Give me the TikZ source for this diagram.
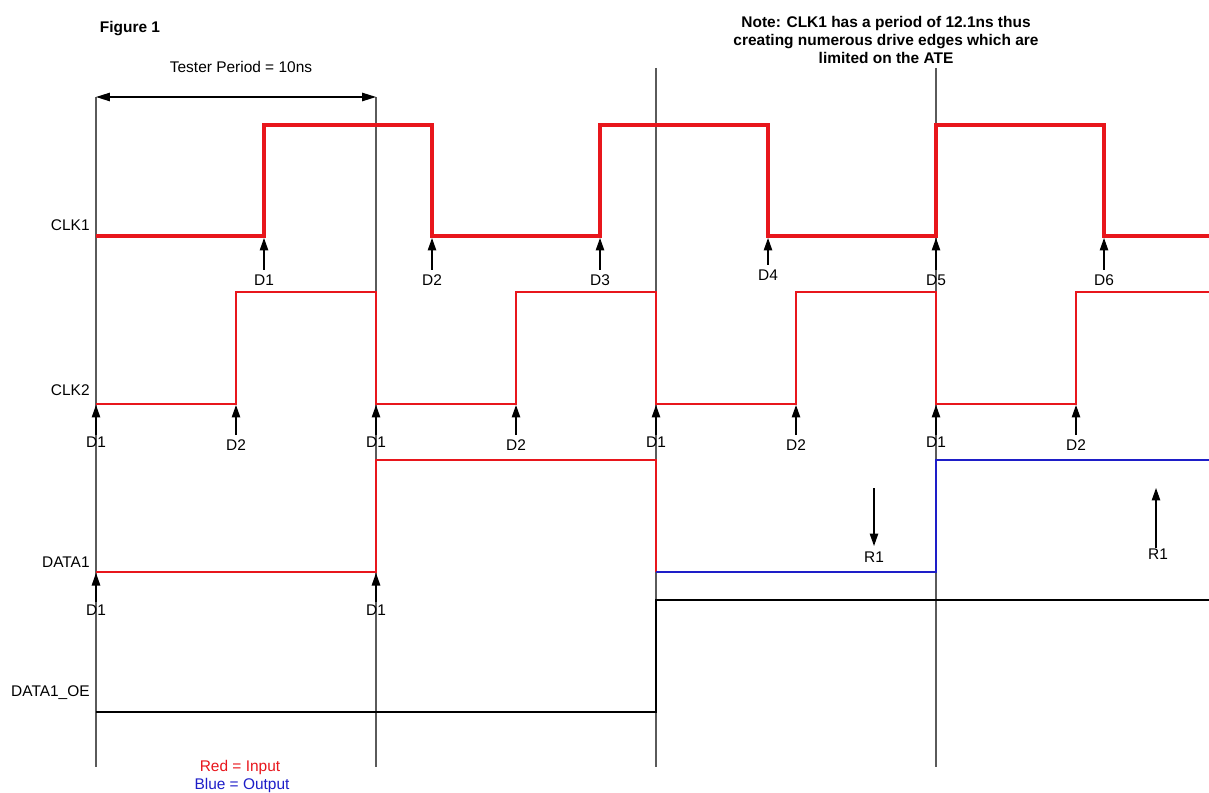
\documentclass[tikz,border=0pt]{standalone}
\usepackage{fontspec}
\setmainfont{Liberation Sans}
\usetikzlibrary{arrows.meta,positioning}
\definecolor{sigred}{RGB}{232,22,28}
\definecolor{sigblue}{RGB}{30,30,200}
\definecolor{gridgrey}{RGB}{90,90,90}

\begin{document}
\begin{tikzpicture}[x=0.02cm, y=-0.02cm,
    lbl/.style={font=\fontsize{8.8}{10.2}\selectfont, inner sep=0pt},
    sig/.style={lbl, anchor=east},
    clkthick/.style={sigred, line width=2.3pt},
    wire/.style={line width=1.3pt},
    grid/.style={gridgrey, line width=0.6pt},
    drv/.style={-{Triangle[length=2.5mm,width=1.7mm]}, line width=0.7pt},
  ]
  \useasboundingbox (0,0) rectangle (1209,793);

  % Titel und Hinweis
  \node[lbl, font=\fontsize{8.8}{10.2}\selectfont\bfseries] (fig) at (130,29) {Figure 1};
  \node[lbl, font=\fontsize{8.8}{10.2}\selectfont\bfseries, align=center] (note) at (886,40)
    {Note: CLK1 has a period of 12.1ns thus\\creating numerous drive edges which are\\limited on the ATE};

  % Tester-Perioden (Raster)
  \foreach \i/\x/\y in {1/96/97, 2/376/97, 3/656/68, 4/936/68} {
    \coordinate (t\i) at (\x,\y);
    \coordinate (b\i) at (\x,767);
    \draw[grid] (t\i) -- (b\i);
  }
  \draw[{Triangle[length=2.8mm,width=1.7mm]}-{Triangle[length=2.8mm,width=1.7mm]}, line width=0.7pt]
    (96,97) coordinate (pl) -- (376,97) coordinate (pr);
  \node[lbl] (period) at (241,67) {Tester Period = 10ns};

  % Signalnamen
  \node[sig] (nclk1) at (90,225) {CLK1};
  \node[sig] (nclk2) at (90,390) {CLK2};
  \node[sig] (ndata) at (90,562) {DATA1};
  \node[sig] (noe) at (90,693) {DATA1\_OE};

  % CLK1
  \draw[clkthick] (96,236) -- (264,236) -- (264,125) -- (432,125) -- (432,236)
    -- (600,236) -- (600,125) -- (768,125) -- (768,236) -- (936,236) -- (936,125)
    -- (1104,125) -- (1104,236) -- (1209,236);
  \foreach \i/\x/\y in {1/264/280, 2/432/280, 3/600/280, 4/768/275, 5/936/280, 6/1104/280} {
    \coordinate (ca\i) at (\x,\y-10);
    \coordinate (cb\i) at (\x,238);
    \draw[drv] (ca\i) -- (cb\i);
    \node[lbl] (cd\i) at (\x,\y) {D\i};
  }

  % CLK2
  \draw[sigred, wire] (96,404) -- (236,404) -- (236,292) -- (376,292) -- (376,404)
    -- (516,404) -- (516,292) -- (656,292) -- (656,404) -- (796,404) -- (796,292)
    -- (936,292) -- (936,404) -- (1076,404) -- (1076,292) -- (1209,292);
  \foreach \x/\n/\y in {96/1/442, 236/2/445, 376/1/442, 516/2/445,
                        656/1/442, 796/2/445, 936/1/442, 1076/2/445} {
    \coordinate (ka\x) at (\x,435);
    \coordinate (kb\x) at (\x,405);
    \draw[drv] (ka\x) -- (kb\x);
    \node[lbl] (kd\x) at (\x,\y) {D\n};
  }

  % DATA1
  \draw[sigred, wire] (96,572) -- (376,572) -- (376,460) -- (656,460) -- (656,572);
  \draw[sigblue, wire] (656,572) -- (936,572) -- (936,460) -- (1209,460);
  \foreach \x in {96,376} {
    \coordinate (da\x) at (\x,602);
    \coordinate (db\x) at (\x,573);
    \draw[drv] (da\x) -- (db\x);
    \node[lbl] (dd\x) at (\x,610) {D1};
  }

  % Strobes
  \coordinate (ra1) at (874,488);
  \coordinate (rb1) at (874,546);
  \draw[drv] (ra1) -- (rb1);
  \node[lbl] (r1) at (874,557) {R1};
  \coordinate (ra2) at (1156,548);
  \coordinate (rb2) at (1156,488);
  \draw[drv] (ra2) -- (rb2);
  \node[lbl] (r2) at (1158,554) {R1};

  % DATA1_OE
  \draw[wire] (96,712) -- (656,712) -- (656,600) -- (1209,600);

  % Legende
  \node[lbl, text=sigred] (lred) at (240,767) {Red = Input};
  \node[lbl, text=sigblue] (lblue) at (242,785) {Blue = Output};
\end{tikzpicture}
\end{document}
